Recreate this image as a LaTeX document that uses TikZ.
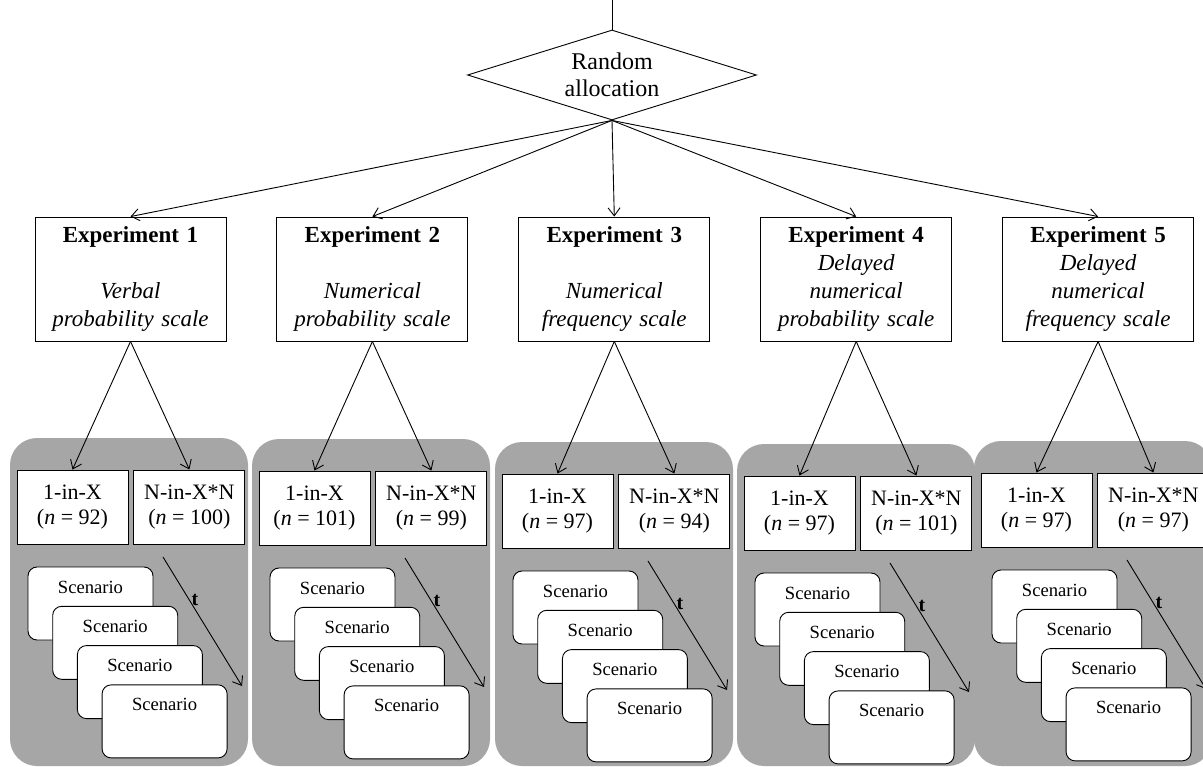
\documentclass[tikz,border=0pt]{standalone}
\usepackage{fontspec}
\setmainfont{Liberation Serif}
\usepackage{tikz}
\usetikzlibrary{
    shapes.geometric,
    arrows.meta,
    positioning,
    calc
}
\definecolor{panelgray}{RGB}{166,166,166}

\begin{document}
\begin{tikzpicture}[
            x=1pt, y=-1pt, line width=0.9pt,
            decision/.style={diamond, draw, aspect=3.2, minimum width=289pt, minimum height=90pt, inner sep=0pt, align=center, font=\fontsize{24}{27}\selectfont},
            exp_box/.style={rectangle, draw, minimum width=191pt, minimum height=124pt, text width=185pt, align=center, inner sep=0pt, font=\fontsize{23}{28}\selectfont},
            group_box/.style={rectangle, draw, fill=white, minimum width=111pt, minimum height=74pt, inner sep=0pt, align=center, font=\fontsize{22}{25}\selectfont},
            scenario_card/.style={rectangle, draw, fill=white, rounded corners=9pt, minimum width=125pt, minimum height=73pt, inner sep=0pt, text height=26pt, text depth=47pt, font=\fontsize{18.6}{22}\selectfont},
            panel_bg/.style={fill=panelgray, rounded corners=27pt},
            flow_arrow/.style={-{Straight Barb[length=8pt,width=12pt]}},
            time_label/.style={font=\fontsize{20}{24}\selectfont\bfseries, inner sep=2pt}
        ]

        \useasboundingbox (0,0) rectangle (1203,767);

        \coordinate (entry) at (612,0);
        \node[decision] (alloc) at (612,75) {Random\\allocation};
        \draw (entry) -- (alloc.north);

        \node[exp_box] (exp1) at (130.5,279) {\textbf{Experiment 1}\\[28pt]\textit{Verbal}\\\textit{probability scale}};
        \node[exp_box, right=50pt of exp1] (exp2) {\textbf{Experiment 2}\\[28pt]\textit{Numerical}\\\textit{probability scale}};
        \node[exp_box, right=50pt of exp2] (exp3) {\textbf{Experiment 3}\\[28pt]\textit{Numerical}\\\textit{frequency scale}};
        \node[exp_box, right=50pt of exp3] (exp4) {\textbf{Experiment 4}\\\textit{Delayed}\\\textit{numerical}\\\textit{probability scale}};
        \node[exp_box, right=50pt of exp4] (exp5) {\textbf{Experiment 5}\\\textit{Delayed}\\\textit{numerical}\\\textit{frequency scale}};

        \foreach \i in {1,...,5}
            \draw[flow_arrow] (alloc.south) -- (exp\i.north);

        % one grey panel per experiment: groups, scenarios, time
        \foreach \i/\px/\py/\na/\nb in {1/10/438/92/100, 2/252/439/101/99, 3/495/442/97/94, 4/737/444/97/101, 5/974/441/97/97} {
            \fill[panel_bg] (\px,\py) rectangle (\px+238,766);
            \node[group_box] (onex\i) at (\px+62.5,\py+69) {1-in-X\\(\textit{n} = \na)};
            \node[group_box, right=5pt of onex\i] (nx\i) {N-in-X*N\\(\textit{n} = \nb)};
            \draw[flow_arrow] (exp\i.south) -- (onex\i.north);
            \draw[flow_arrow] (exp\i.south) -- (nx\i.north);
            \foreach \j in {0,...,3}
                \node[scenario_card] (card\i\j) at (\px+80.5+24.7*\j,\py+165.5+39.3*\j) {Scenario};
            \coordinate (tstart\i) at (\px+153,\py+119);
            \coordinate (tend\i) at (\px+232,\py+248);
            \draw[flow_arrow] (tstart\i) -- node[time_label, right, pos=0.33] {t} (tend\i);
        }

        \end{tikzpicture}
\end{document}
